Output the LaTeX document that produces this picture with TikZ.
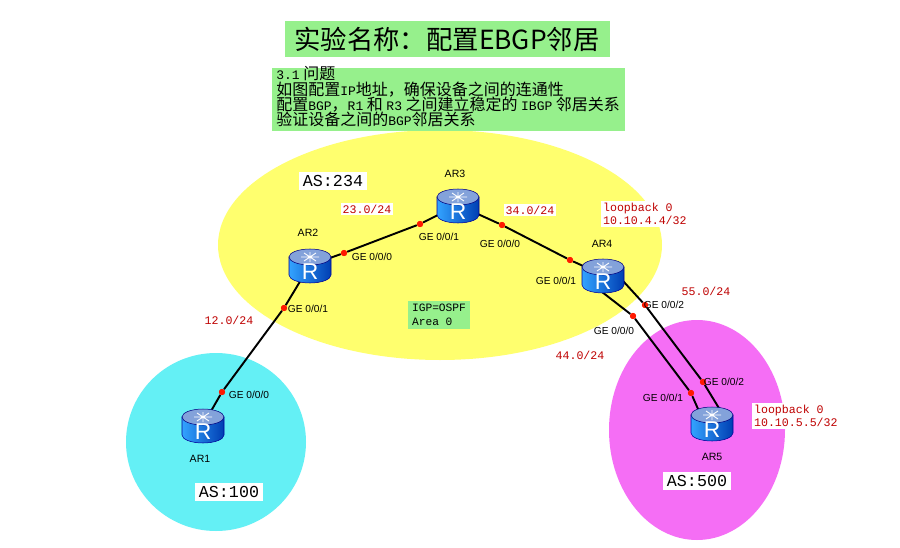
\documentclass[tikz,border=0pt]{standalone}
\usepackage{fontspec}
\setmainfont{Liberation Sans}
\setmonofont{Liberation Mono}
\newfontfamily\cjk{Noto Sans CJK SC}
\definecolor{ylw}{RGB}{255,255,110}
\definecolor{cyn}{RGB}{100,240,245}
\definecolor{mgt}{RGB}{245,110,245}
\definecolor{grn}{RGB}{150,240,140}
\newcommand\tinytt[1]{{\ttfamily\fontsize{7.4}{8}\selectfont #1}}
\begin{document}
\begin{tikzpicture}[x=0.02cm,y=-0.02cm,
  port/.style={circle,fill=red!80!orange,inner sep=0pt,minimum size=3.5pt},
  ge/.style={font=\fontsize{5.8}{6}\selectfont,inner sep=1pt},
  net/.style={font=\ttfamily\fontsize{6.6}{7.6}\selectfont,text=red!75!black,fill=white,inner sep=1pt},
  rname/.style={font=\fontsize{6}{7}\selectfont},
  asbox/.style={font=\ttfamily\fontsize{9.5}{10}\selectfont,fill=white,inner sep=2pt},
  link/.style={line width=1.1pt,black}]
\useasboundingbox (0,0) rectangle (900,548);
\fill[white] (0,0) rectangle (900,548);
\fill[ylw] (440,245) ellipse [x radius=222,y radius=-115];
\fill[cyn] (216,442) ellipse [x radius=90,y radius=-89];
\fill[mgt] (697,430) ellipse [x radius=88,y radius=-110];
% title
\node[fill=grn,minimum width=325*0.02cm,minimum height=35*0.02cm,font=\cjk\fontsize{15}{16}\selectfont] (title) at (447,39) {实验名称：配置EBGP邻居};
\node[fill=grn,anchor=north west,minimum width=353*0.02cm,minimum height=63*0.02cm,inner sep=0pt] (desc) at (272,68) {};
\node[anchor=north west,align=left,inner sep=0pt,font=\cjk\fontsize{9.1}{8.8}\selectfont] (desctext) at (276,66) {\tinytt{3.1} 问题\\如图配置\tinytt{IP}地址，确保设备之间的连通性\\配置\tinytt{BGP}，\tinytt{R1} 和 \tinytt{R3} 之间建立稳定的 \tinytt{IBGP} 邻居关系\\验证设备之间的\tinytt{BGP}邻居关系};
% router centers
\coordinate (c3) at (458,205);
\coordinate (c2) at (310,265);
\coordinate (c4) at (603,275);
\coordinate (c1) at (203,425);
\coordinate (c5) at (712,423);
% ports
\node[port] (p1) at (222,392) {};
\node[port] (p2a) at (284,308) {};
\node[port] (p2b) at (344,253) {};
\node[port] (p3a) at (420,224) {};
\node[port] (p3b) at (502,225) {};
\node[port] (p4a) at (570,260) {};
\node[port] (p4b) at (633,316) {};
\node[port] (p4c) at (645,305) {};
\node[port] (p5a) at (691,393) {};
\node[port] (p5b) at (703,382) {};
\draw[link] (c1) -- (p1) -- (p2a) -- (c2);
\draw[link] (c2) -- (p2b) -- (p3a) -- (c3);
\draw[link] (c3) -- (p3b) -- (p4a) -- (c4);
\draw[link] (593,285) -- (p4b) -- (p5a) -- (702,418);
\draw[link] (613,270) -- (p4c) -- (p5b) -- (725,418);
\foreach \p in {p1,p2a,p2b,p3a,p3b,p4a,p4b,p4c,p5a,p5b} \node[port] at (\p) {};
% routers
\foreach \c/\n in {c1/AR1,c2/AR2,c3/AR3,c4/AR4,c5/AR5}{
  \begin{scope}[shift={(\c)}]
    \path[left color=blue!45!cyan!80!white,right color=blue!65!cyan!70!black,draw=blue!60!black,line width=0.3pt]
      (-21,-8) -- (-21,10) arc[start angle=180,end angle=360,x radius=21,y radius=-8] -- (21,-8) -- cycle;
    \path[fill=cyan!45!blue!50!white,draw=blue!50!black,line width=0.3pt] (0,-8) ellipse [x radius=21,y radius=-8];
    \node[text=white,font=\fontsize{13}{13}\selectfont,inner sep=0pt] at (0,7) {R};
    \draw[white,line width=0.5pt] (-9,-8)--(9,-8) (0,-13)--(0,-3) (-6,-12)--(6,-4) (-6,-4)--(6,-12);
  \end{scope}
  \node[inner sep=0pt,minimum width=0.84cm,minimum height=0.72cm] (\n) at (\c) {};
}
\node[rname] (l3) at (455,174) {AR3};
\node[rname] (l2) at (308,233) {AR2};
\node[rname] (l4) at (602,244) {AR4};
\node[rname] (l1) at (200,459) {AR1};
\node[rname] (l5) at (712,457) {AR5};
% GE labels
\node[ge] at (372,257) {GE 0/0/0};
\node[ge] at (308,309) {GE 0/0/1};
\node[ge] at (249,395) {GE 0/0/0};
\node[ge] at (439,237) {GE 0/0/1};
\node[ge] at (500,244) {GE 0/0/0};
\node[ge] at (556,281) {GE 0/0/1};
\node[ge] at (664,305) {GE 0/0/2};
\node[ge] at (614,331) {GE 0/0/0};
\node[ge] at (663,398) {GE 0/0/1};
\node[ge] at (724,382) {GE 0/0/2};
% net labels
\node[net] at (367,209) {23.0/24};
\node[net] at (530,210) {34.0/24};
\node[net] at (229,320) {12.0/24};
\node[net] at (706,291) {55.0/24};
\node[net] at (580,355) {44.0/24};
\node[net,align=left,anchor=north west] at (601,201) {loopback 0\\10.10.4.4/32};
\node[net,align=left,anchor=north west] at (752,403) {loopback 0\\10.10.5.5/32};
% AS boxes
\node[asbox] at (333,181) {AS:234};
\node[asbox] at (229,492) {AS:100};
\node[asbox] at (697,481) {AS:500};
\node[fill=grn,align=left,font=\ttfamily\fontsize{6.4}{8}\selectfont,inner sep=2pt] at (439,315) {IGP=OSPF\\Area 0};
\end{tikzpicture}
\end{document}
